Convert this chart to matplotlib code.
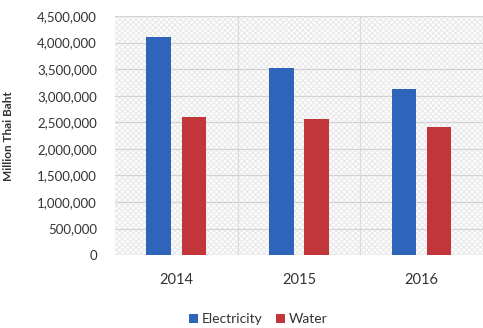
import numpy as np
import matplotlib
matplotlib.use("Agg")
from matplotlib import pyplot as plt
from matplotlib.patches import Rectangle
from matplotlib.ticker import FuncFormatter, MultipleLocator

years = ["2014", "2015", "2016"]
electricity = [4100000, 3520000, 3130000]
water = [2600000, 2570000, 2420000]

plt.rcParams['font.family'] = ['Lato', 'DejaVu Sans']

fig = plt.figure(figsize=(4.83, 3.28), dpi=100)
ax = fig.add_axes([0.238, 0.222, 0.762, 0.729])

x = np.arange(len(years))
width = 0.2
offset = 0.143

# hatched background of the plot area
ax.add_patch(Rectangle((0, 0), 1, 1, transform=ax.transAxes, facecolor='white',
                       edgecolor='#ebebeb', hatch='xxxxxx', linewidth=0, zorder=0))
ax.set_facecolor('white')

ax.bar(x - offset, electricity, width, color='#2f64bb', label='Electricity', zorder=3)
ax.bar(x + offset, water, width, color='#c1353b', label='Water', zorder=3)

ax.set_xlim(-0.5, 2.5)
ax.set_ylim(0, 4500000)
ax.yaxis.set_major_locator(MultipleLocator(500000))
ax.yaxis.set_major_formatter(FuncFormatter(lambda v, p: f"{int(v):,}"))
ax.set_xticks(x)
ax.set_xticklabels(years)

# grid lines: horizontal at each tick, vertical between the categories
ax.grid(axis='y', color='#d2d2d2', linewidth=0.8, zorder=1)
for b in (0.5, 1.5):
    ax.axvline(b, color='#dadada', linewidth=0.8, zorder=1)

for s in ax.spines.values():
    s.set_visible(False)
ax.axhline(0, color='#c8c8c8', linewidth=0.8, zorder=2)

ax.tick_params(length=0, colors='#333333')
ax.tick_params(axis='x', labelsize=10.5, pad=13)
ax.tick_params(axis='y', labelsize=9.5, pad=13)

ax.set_ylabel('Million Thai Baht', fontsize=8.5, fontweight='bold', color='#333333')
ax.yaxis.set_label_coords(-0.275, 0.5)

fig.legend(loc='lower center', bbox_to_anchor=(0.535, -0.03), ncol=2, frameon=False,
           fontsize=10, handlelength=0.6, handleheight=0.6, handletextpad=0.3,
           columnspacing=1.0, labelcolor='#333333')

fig.savefig('out.png', dpi=100)
